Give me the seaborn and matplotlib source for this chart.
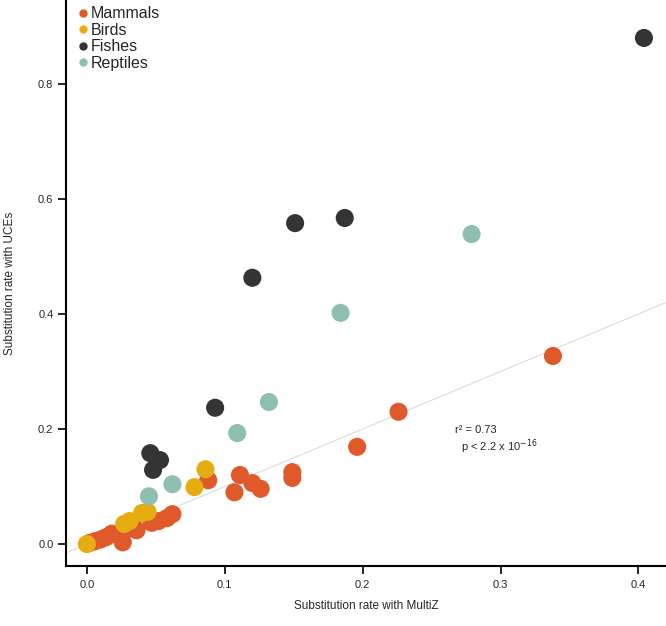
import numpy as np
import pandas as pd
import matplotlib
matplotlib.use("Agg")
import matplotlib.pyplot as plt
import seaborn as sns

# substitution rates (MultiZ on x, UCEs on y)
mammals_x = [0.002, 0.006, 0.010, 0.014, 0.018, 0.022, 0.026, 0.030, 0.034, 0.036,
             0.047, 0.052, 0.058, 0.062, 0.088, 0.107, 0.111, 0.120, 0.126,
             0.149, 0.149, 0.196, 0.226, 0.338]
mammals_y = [0.002, 0.005, 0.008, 0.012, 0.018, 0.017, 0.003, 0.027, 0.030, 0.024,
             0.037, 0.040, 0.045, 0.052, 0.111, 0.090, 0.120, 0.106, 0.096,
             0.125, 0.115, 0.169, 0.230, 0.327]

birds_x = [0.000, 0.027, 0.031, 0.040, 0.044, 0.078, 0.086]
birds_y = [0.000, 0.035, 0.040, 0.054, 0.056, 0.099, 0.130]

fishes_x = [0.046, 0.053, 0.048, 0.093, 0.120, 0.151, 0.187, 0.404]
fishes_y = [0.158, 0.146, 0.129, 0.237, 0.463, 0.558, 0.567, 0.880]

reptiles_x = [0.045, 0.062, 0.109, 0.132, 0.184, 0.279]
reptiles_y = [0.083, 0.104, 0.193, 0.247, 0.402, 0.539]

groups = ["Mammals", "Birds", "Fishes", "Reptiles"]
colors = ["#e0592b", "#e6ad12", "#343434", "#8fbfb2"]

df = pd.concat([
    pd.DataFrame({"multiz": mammals_x, "uce": mammals_y, "group": "Mammals"}),
    pd.DataFrame({"multiz": birds_x, "uce": birds_y, "group": "Birds"}),
    pd.DataFrame({"multiz": fishes_x, "uce": fishes_y, "group": "Fishes"}),
    pd.DataFrame({"multiz": reptiles_x, "uce": reptiles_y, "group": "Reptiles"}),
], ignore_index=True)

sns.set_style("white")
plt.rcParams["font.family"] = ["Liberation Sans", "DejaVu Sans"]

fig = plt.figure(figsize=(6.66, 6.26), dpi=100)
ax = fig.add_axes([0.099, 0.096, 0.901, 0.904])

# y = x reference line
ax.axline((0, 0), slope=1, color="#dcdcdc", lw=0.8, zorder=0)

sns.scatterplot(data=df, x="multiz", y="uce", hue="group", hue_order=groups,
                palette=colors, s=170, linewidth=0, alpha=1, ax=ax, legend=False)

ax.set_xlim(-0.0152, 0.42)
ax.set_ylim(-0.038, 0.946)
ax.set_xticks([0.0, 0.1, 0.2, 0.3, 0.4])
ax.set_yticks([0.0, 0.2, 0.4, 0.6, 0.8])
ax.set_xticklabels(["0.0", "0.1", "0.2", "0.3", "0.4"])
ax.set_yticklabels(["0.0", "0.2", "0.4", "0.6", "0.8"])
ax.tick_params(axis="both", direction="out", length=6, width=1.2, labelsize=8,
               color="black", bottom=True, left=True)
ax.tick_params(axis="x", pad=4)
ax.tick_params(axis="y", pad=3)

sns.despine(ax=ax)
for side in ["left", "bottom"]:
    ax.spines[side].set_linewidth(1.5)
    ax.spines[side].set_color("black")

ax.set_xlabel("Substitution rate with MultiZ", fontsize=8.5)
ax.set_ylabel("Substitution rate with UCEs", fontsize=8.5)
ax.xaxis.set_label_coords(0.5, -0.060)
ax.yaxis.set_label_coords(-0.083, 0.50)

ax.text(0.267, 0.198, "r² = 0.73", fontsize=8, va="center")
ax.text(0.271, 0.170, "p < 2.2 x 10$^{-16}$", fontsize=8, va="center")

handles = [plt.Line2D([], [], marker="o", ls="", color=c, markersize=5) for c in colors]
ax.legend(handles, groups, loc="upper left", bbox_to_anchor=(0.0, 1.006),
          frameon=False, fontsize=11.5, handletextpad=0.05, labelspacing=0.1,
          borderaxespad=0.2, handlelength=0.9)

fig.savefig("out.png", dpi=100)
